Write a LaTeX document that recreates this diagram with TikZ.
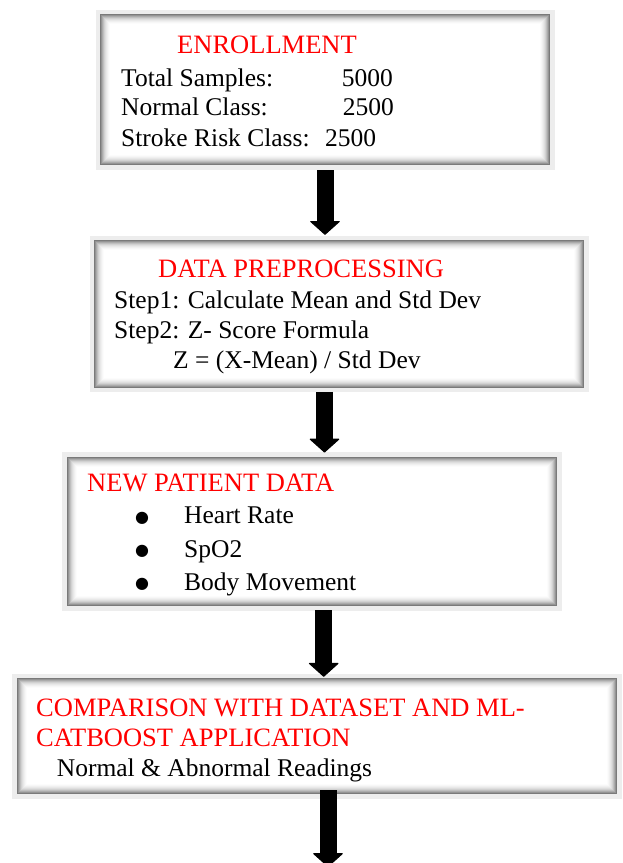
\documentclass[tikz,border=0pt]{standalone}
\usepackage{fontspec}
\setmainfont{Liberation Serif}
\newfontfamily\dotfont{DejaVu Sans}
\usetikzlibrary{arrows.meta}

\begin{document}
\begin{tikzpicture}
[x=1pt,y=-1pt,
  boxDecorate/.style={shape=rectangle,inner sep=0pt,fill=white,
    preaction={draw=black!7,line width=9pt},
    path picture={
      \foreach \d/\c in {0.5/52,1.5/42,2.5/33,3.5/25,4.5/18,5.5/13,6.5/9,7.5/6,8.5/3,9.5/1}
        \draw[black!\c,line width=1pt]
          ([xshift=\d pt,yshift=-\d pt]path picture bounding box.north west) rectangle
          ([xshift=-\d pt,yshift=\d pt]path picture bounding box.south east);}},
  titleDecorate/.style={anchor=base west,inner sep=0pt,text=red,font=\fontsize{26.5}{30}\selectfont},
  textDecorate/.style={anchor=base west,inner sep=0pt,font=\fontsize{25.5}{30}\selectfont},
  bulletDecorate/.style={anchor=center,inner sep=0pt,text height=5pt,text depth=5pt,
    font=\dotfont\fontsize{16}{18}\selectfont},
  arrowDecorate/.style={line width=17pt,-{Triangle[width=31pt,length=14pt,line width=1pt,round]}}]
\useasboundingbox (0,0) rectangle (622,863);
%% boxes
\foreach \nodename/\x/\y/\w/\h in {
  enroll/325/89.5/450/151, preproc/339/313.9/490/147.7,
  patient/311.9/531.4/490.3/149.3, compare/316.9/736/600.3/116}
{
  \node (\nodename) at (\x,\y) [boxDecorate,minimum width=\w pt,minimum height=\h pt] {};
}
%% headings
\foreach \x/\y/\txt [count=\i] in {
  177/53.3/ENROLLMENT, 158/277.7/DATA PREPROCESSING, 87/491.7/NEW PATIENT DATA,
  36/716.7/COMPARISON WITH DATASET AND ML-, 36/746.7/CATBOOST APPLICATION}
{
  \node (head\i) at (\x,\y) [titleDecorate] {\txt};
}
%% box contents
\foreach \x/\y/\txt [count=\i] in {
  121/86/Total Samples:, 341.7/86/5000, 121/115/Normal Class:, 342.7/115/2500,
  121/146/Stroke Risk Class:, 325/146/2500,
  114/308/Step1: Calculate Mean and Std Dev, 114/338/Step2: Z- Score Formula,
  173/368/{Z = (X-Mean) / Std Dev},
  184/523/Heart Rate, 184/557.7/SpO2, 184/590/Body Movement,
  56.7/776/Normal \& Abnormal Readings}
{
  \node (line\i) at (\x,\y) [textDecorate] {\txt};
}
\foreach \y [count=\i] in {516.7, 550.5, 583}
{
  \node (dot\i) at (142,\y) [bulletDecorate] {\raisebox{-5.3pt}{●}};
}
%% arrows
\coordinate (a2) at ([xshift=-14.5pt]preproc.south);
\coordinate (a3) at ([xshift=11.8pt]patient.south);
\coordinate (a4) at ([xshift=11.1pt,yshift=4pt]compare.south);
\coordinate (exit) at (328,867);
\draw[arrowDecorate,shorten <=5pt,shorten >=5pt] (enroll.south) -- (enroll.south |- preproc.north);
\draw[arrowDecorate,shorten <=4pt,shorten >=4pt] (a2) -- (a2 |- patient.north);
\draw[arrowDecorate,shorten <=4pt,shorten >=1pt] (a3) -- (a3 |- compare.north);
\draw[arrowDecorate] (a4) -- (a4 |- exit);
\end{tikzpicture}
\end{document}
